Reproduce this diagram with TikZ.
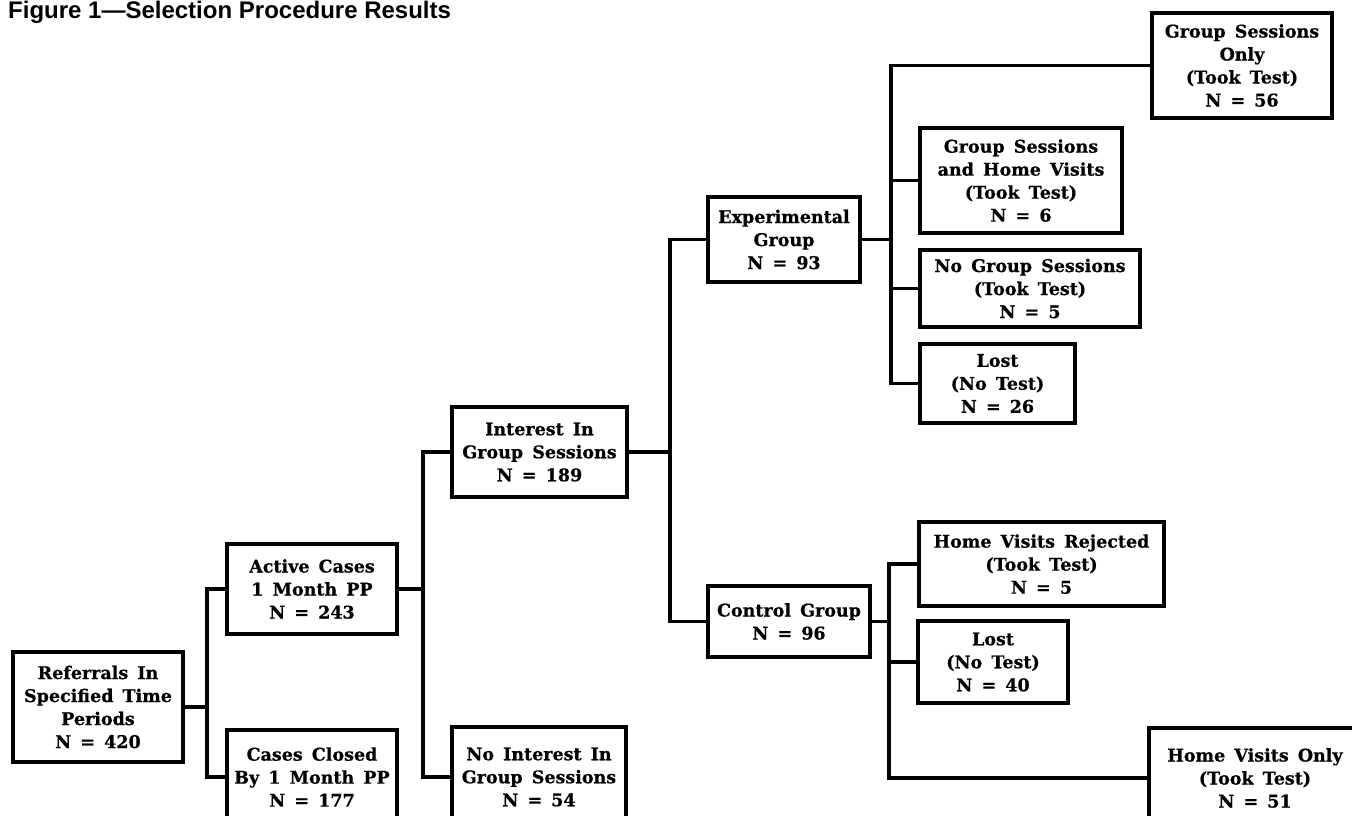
\documentclass[tikz,border=0pt]{standalone}
\usepackage{fontspec}
\newfontfamily\boxfont{DejaVu Serif}[WordSpace=1.5, BoldFeatures={FakeBold=0.6}]
\newfontfamily\titlefont{Liberation Sans}
\begin{document}
\begin{tikzpicture}[x=1pt,y=-1pt,
  box/.style={draw, line width=3.5pt, rectangle, inner sep=0pt, align=center,
    font=\boxfont\bfseries\fontsize{17.5}{23}\selectfont},
  conn/.style={line width=3.5pt, line join=miter, line cap=rect}]
\useasboundingbox (0,0) rectangle (1352,816);
\clip (0,0) rectangle (1352,816);
\fill[white] (0,0) rectangle (1352,816);

\node[anchor=base west, inner sep=0pt, font=\titlefont\bfseries\fontsize{24}{28}\selectfont] (title) at (8,18.5) {Figure 1—Selection Procedure Results};

% boxes
\node[box, minimum width=170pt, minimum height=110pt] (ref) at (98,707) {Referrals In\\Specified Time\\Periods\\N = 420};
\node[box, minimum width=170pt, minimum height=90pt] (act) at (312,589) {Active Cases\\1 Month PP\\N = 243};
\node[box, minimum width=170pt, minimum height=94pt] (closed) at (312,777) {Cases Closed\\By 1 Month PP\\N = 177};
\node[box, minimum width=175pt, minimum height=90pt] (int) at (539.5,452) {Interest In\\Group Sessions\\N = 189};
\node[box, minimum width=174pt, minimum height=100pt] (noint) at (539,777) {No Interest In\\Group Sessions\\N = 54};
\node[box, minimum width=152pt, minimum height=85pt] (exp) at (784,239.5) {Experimental\\Group\\N = 93};
\node[box, minimum width=162pt, minimum height=71pt] (ctrl) at (789,621.5) {Control Group\\N = 96};
\node[box, minimum width=180pt, minimum height=105pt] (gso) at (1242,65.5) {Group Sessions\\Only\\(Took Test)\\N = 56};
\node[box, minimum width=202pt, minimum height=105pt, text depth=-5pt] (gshv) at (1021,180.5) {Group Sessions\\and Home Visits\\(Took Test)\\N = 6};
\node[box, minimum width=220pt, minimum height=77pt] (nogs) at (1030,288.5) {No Group Sessions\\(Took Test)\\N = 5};
\node[box, minimum width=155pt, minimum height=79pt] (lostA) at (997.5,383.5) {Lost\\(No Test)\\N = 26};
\node[box, minimum width=245pt, minimum height=84pt, text depth=-5pt] (hvr) at (1041.5,564) {Home Visits Rejected\\(Took Test)\\N = 5};
\node[box, minimum width=150pt, minimum height=82pt] (lostB) at (993,662) {Lost\\(No Test)\\N = 40};
\node[box, minimum width=212pt, minimum height=100pt] (hvo) at (1255,778) {Home Visits Only\\(Took Test)\\N = 51};

% bus positions
\coordinate (bus1) at (207,0);
\coordinate (bus2) at (423,0);
\coordinate (bus3) at (670,0);
\coordinate (bus4) at (891,0);
\coordinate (bus5) at (889,0);

% connectors
\draw[conn] (ref.east) -- (ref.east -| bus1);
\draw[conn] (act.west) -- (act.west -| bus1) -- (closed.west -| bus1) -- (closed.west);

\draw[conn] (act.east) -- (act.east -| bus2);
\draw[conn] (int.west) -- (int.west -| bus2) -- (noint.west -| bus2) -- (noint.west);

\draw[conn] (int.east) -- (int.east -| bus3);
\draw[conn] (exp.west) -- (exp.west -| bus3) -- (ctrl.west -| bus3) -- (ctrl.west);

\draw[conn] (exp.east) -- (exp.east -| bus4);
\draw[conn] (gso.west) -- (gso.west -| bus4) -- (lostA.west -| bus4) -- (lostA.west);
\draw[conn] (gshv.west) -- (gshv.west -| bus4);
\draw[conn] (nogs.west) -- (nogs.west -| bus4);

\draw[conn] (ctrl.east) -- (ctrl.east -| bus5);
\draw[conn] (hvr.west) -- (hvr.west -| bus5) -- (hvo.west -| bus5) -- (hvo.west);
\draw[conn] (lostB.west) -- (lostB.west -| bus5);
\end{tikzpicture}
\end{document}
